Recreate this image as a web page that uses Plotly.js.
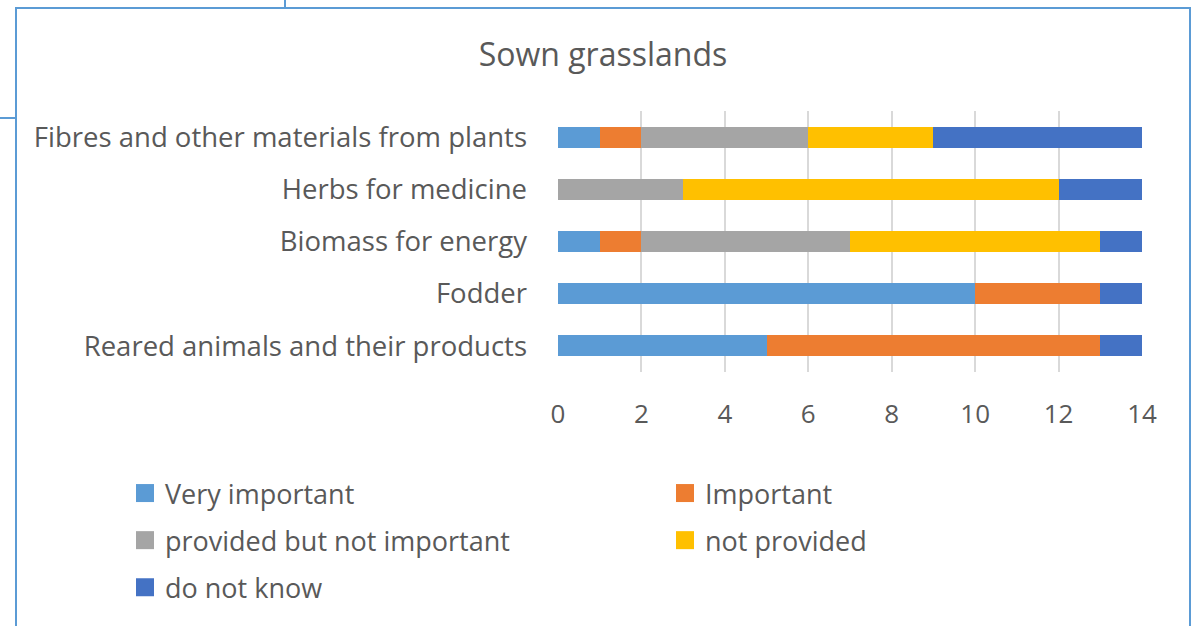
<!DOCTYPE html>
<html>
<head>
<meta charset="utf-8">
<script src="https://cdn.plot.ly/plotly-3.0.1.min.js"></script>
<style>
  body { margin: 0; background: #fff; }
  #chart { position: absolute; left: 0; top: 0; width: 1194px; height: 626px; }
  .frame { position: absolute; background: #5b9bd5; }
</style>
</head>
<body>
<div id="chart"></div>
<div class="frame" style="left:15px; top:7px; width:1176px; height:2px;"></div>
<div class="frame" style="left:15px; top:7px; width:2px; height:619px;"></div>
<div class="frame" style="left:1189px; top:7px; width:2px; height:619px;"></div>
<div class="frame" style="left:284px; top:0px; width:2px; height:8px;"></div>
<div class="frame" style="left:0px; top:117px; width:16px; height:2px;"></div>
<script>
// services, bottom to top as drawn
const services = [
  "Reared animals and their products",
  "Fodder",
  "Biomass for energy",
  "Herbs for medicine",
  "Fibres and other materials from plants"
];

const veryImportant = [5, 10, 1, 0, 1];
const important = [8, 3, 1, 0, 1];
const providedNotImportant = [0, 0, 5, 3, 4];
const notProvided = [0, 0, 6, 9, 3];
const doNotKnow = [1, 1, 1, 2, 5];

const seriesNames = ["Very important", "Important", "provided but not important", "not provided", "do not know"];
const seriesColors = ["#5b9bd5", "#ed7d31", "#a5a5a5", "#ffc000", "#4472c4"];
const seriesValues = [veryImportant, important, providedNotImportant, notProvided, doNotKnow];
// legend column for each series (two columns, filled row by row)
const legendColumn = ["legend", "legend2", "legend", "legend2", "legend"];

const textColor = "#595959";
const fontFamily = "'Open Sans', sans-serif";

const data = seriesValues.map(function (vals, i) {
  return {
    type: "bar",
    orientation: "h",
    y: services,
    x: vals,
    name: seriesNames[i],
    legendgroup: "g" + i,
    legend: legendColumn[i],
    marker: { color: seriesColors[i], line: { width: 0 } },
    width: 0.4,
    hoverinfo: "x+name"
  };
});

const legendStyle = {
  orientation: "v",
  traceorder: "grouped",
  tracegroupgap: 9,
  xref: "container",
  yref: "container",
  y: 1 - 469 / 626,
  xanchor: "left",
  yanchor: "top",
  font: { size: 27, color: textColor, family: fontFamily },
  bgcolor: "rgba(0,0,0,0)"
};

var layout = {
  barmode: "stack",
  width: 1194,
  height: 626,
  paper_bgcolor: "rgba(0,0,0,0)",
  plot_bgcolor: "rgba(0,0,0,0)",
  margin: { l: 558, r: 52, t: 111, b: 254, autoexpand: false },
  font: { family: fontFamily, color: textColor, size: 27 },
  title: {
    text: "Sown grasslands",
    font: { size: 32, color: textColor, family: fontFamily },
    xref: "container",
    yref: "container",
    x: 0.505,
    y: 1 - 55 / 626,
    xanchor: "center",
    yanchor: "middle"
  },
  xaxis: {
    range: [0, 14],
    dtick: 2,
    showgrid: true,
    gridcolor: "#d9d9d9",
    gridwidth: 2,
    zeroline: false,
    showline: false,
    ticks: "",
    ticklabelstandoff: 24,
    tickfont: { size: 26, color: textColor },
    fixedrange: true
  },
  yaxis: {
    type: "category",
    categoryorder: "array",
    categoryarray: services,
    showgrid: false,
    zeroline: false,
    showline: false,
    ticks: "",
    ticklabelstandoff: 30,
    tickfont: { size: 27.5, color: textColor },
    fixedrange: true
  },
  showlegend: true,
  legend: Object.assign({}, legendStyle, { x: 125 / 1194 }),
  legend2: Object.assign({}, legendStyle, { x: 665 / 1194 })
};

Plotly.newPlot("chart", data, layout, { displayModeBar: false, staticPlot: true }).then(function (gd) {
  // bigger legend squares, like the original
  gd.querySelectorAll(".legendpoints path").forEach(function (p) {
    p.setAttribute("d", "M9,9H-9V-9H9Z");
  });
});
</script>
</body>
</html>
